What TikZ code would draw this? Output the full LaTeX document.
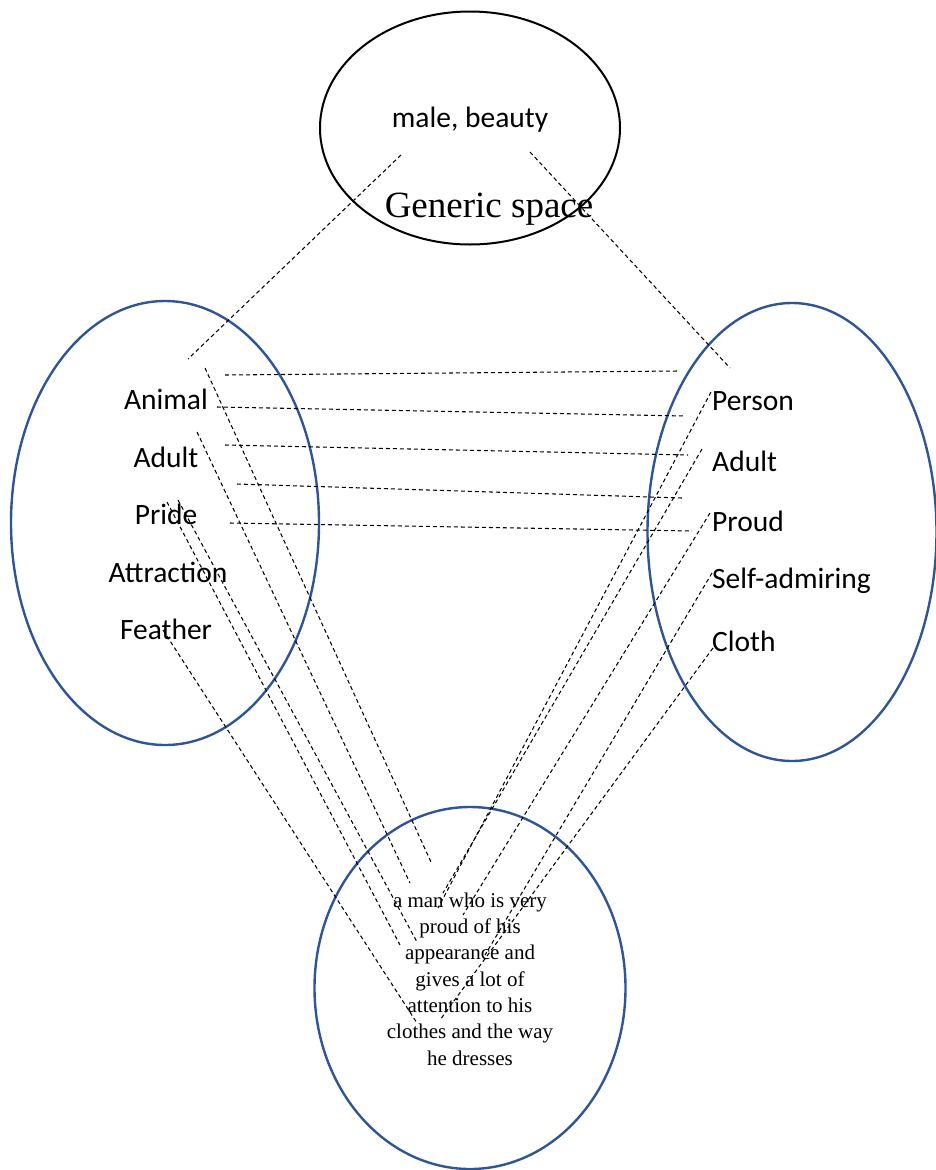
\documentclass[tikz,border=0pt]{standalone}
\usepackage{fontspec}
\setmainfont{Liberation Serif}
\newfontfamily\calfont{Carlito}
\usetikzlibrary{shapes.geometric}
\definecolor{ovalblue}{HTML}{2F5597}
\begin{document}
\begin{tikzpicture}[x=1pt,y=-1pt,
  blueoval/.style={ellipse,draw=ovalblue,line width=2.4pt,inner sep=0pt},
  blackoval/.style={ellipse,draw=black,line width=2pt,inner sep=0pt},
  lbl/.style={font=\calfont\fontsize{29.5}{35}\selectfont,inner sep=0pt},
  link/.style={draw=black,line width=1.05pt,dash pattern=on 4pt off 3pt}]
\useasboundingbox (0,0) rectangle (936,1170);
% ellipses
\node[blackoval,minimum width=300pt,minimum height=233pt] (gen) at (470,128) {};
\node[blueoval,minimum width=308pt,minimum height=444pt] (inA) at (165,523) {};
\node[blueoval,minimum width=289pt,minimum height=458pt] (inB) at (792,532) {};
\node[blueoval,minimum width=311pt,minimum height=362pt] (blend) at (470,988) {};
% texts
\node[lbl] (genT) at (470,120) {male, beauty};
\node[font=\fontsize{37}{44}\selectfont,inner sep=0pt] (genL) at (489,209) {Generic space};
\node[lbl] (l1) at (166,399) {Animal};
\node[lbl] (l2) at (166,457) {Adult};
\node[lbl] (l3) at (166,514) {Pride};
\node[lbl] (l4) at (168,572) {Attraction};
\node[lbl] (l5) at (166,629) {Feather};
\node[lbl,anchor=west] (r1) at (712,401) {Person};
\node[lbl,anchor=west] (r2) at (712,461) {Adult};
\node[lbl,anchor=west] (r3) at (712,521) {Proud};
\node[lbl,anchor=west] (r4) at (712,581) {Self-admiring};
\node[lbl,anchor=west] (r5) at (712,641) {Cloth};
\node[font=\fontsize{21}{26.3}\selectfont,align=center,inner sep=0pt] (blendT) at (470,979)
  {a man who is very\\proud of his\\appearance and\\gives a lot of\\attention to his\\clothes and the way\\he dresses};
% end points of connectors
\coordinate (g1a) at (401,155); \coordinate (g1b) at (188,359);
\coordinate (g2a) at (530,152); \coordinate (g2b) at (730,368);
\coordinate (h1a) at (225,375); \coordinate (h1b) at (678,371);
\coordinate (h2a) at (217,407); \coordinate (h2b) at (685,416);
\coordinate (h3a) at (225,445); \coordinate (h3b) at (688,455);
\coordinate (h4a) at (237,484); \coordinate (h4b) at (682,498);
\coordinate (h5a) at (230,523); \coordinate (h5b) at (692,531);
\coordinate (la1) at (205,368); \coordinate (la2) at (431,862);
\coordinate (lb1) at (197,432); \coordinate (lb2) at (410,883);
\coordinate (lc1) at (167,502); \coordinate (lc2) at (400,945);
\coordinate (ld1) at (178,500); \coordinate (ld2) at (417,942);
\coordinate (le1) at (163,630); \coordinate (le2) at (417,1023);
\coordinate (ra1) at (711,392); \coordinate (ra2) at (438,908);
\coordinate (rb1) at (702,449); \coordinate (rb2) at (443,893);
\coordinate (rc1) at (710,513); \coordinate (rc2) at (463,915);
\coordinate (rd1) at (712,573); \coordinate (rd2) at (485,955);
\coordinate (re1) at (713,648); \coordinate (re2) at (440,1020);
% connectors
\draw[link] (g1a) -- (g1b);
\draw[link] (g2a) -- (g2b);
\draw[link] (h1a) -- (h1b);
\draw[link] (h2a) -- (h2b);
\draw[link] (h3a) -- (h3b);
\draw[link] (h4a) -- (h4b);
\draw[link] (h5a) -- (h5b);
\draw[link] (la1) -- (la2);
\draw[link] (lb1) -- (lb2);
\draw[link] (lc1) -- (lc2);
\draw[link] (ld1) -- (ld2);
\draw[link] (le1) -- (le2);
\draw[link] (ra1) -- (ra2);
\draw[link] (rb1) -- (rb2);
\draw[link] (rc1) -- (rc2);
\draw[link] (rd1) -- (rd2);
\draw[link] (re1) -- (re2);
\end{tikzpicture}
\end{document}
